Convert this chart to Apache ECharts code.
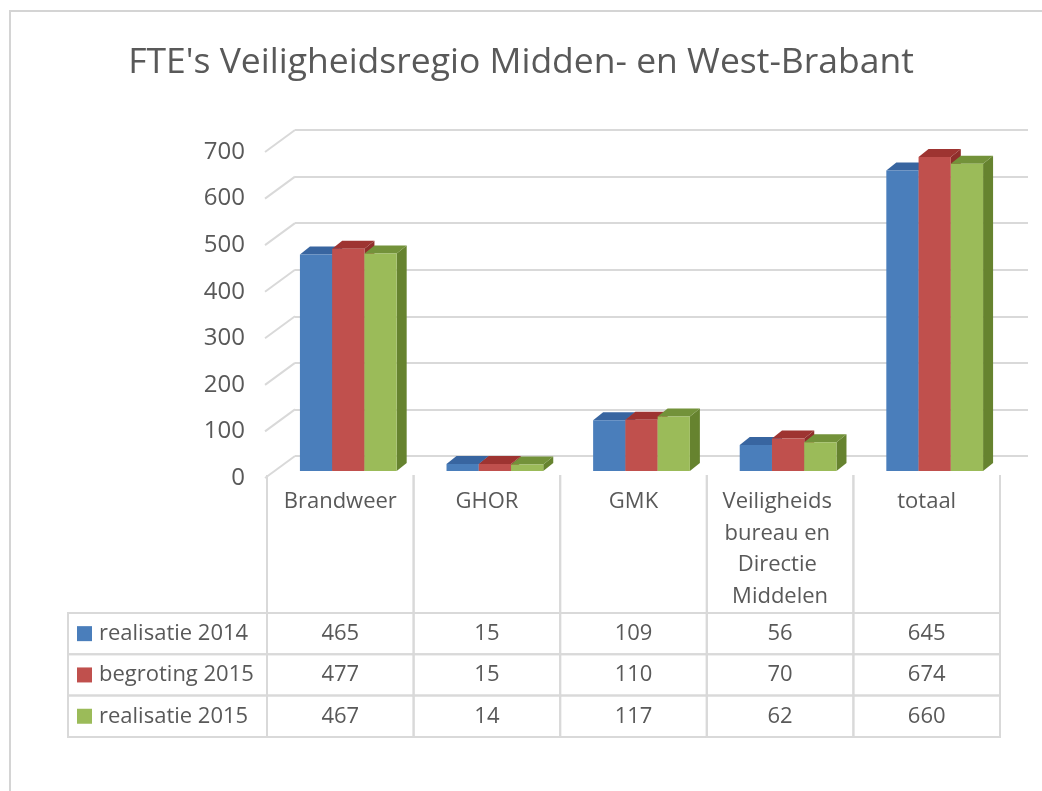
<!DOCTYPE html>
<html>
<head>
<meta charset="utf-8">
<script src="https://cdn.jsdelivr.net/npm/echarts@6/dist/echarts.min.js"></script>
<style>
  html, body { margin: 0; padding: 0; background: #fff; }
  #chart { width: 1042px; height: 791px; }
</style>
</head>
<body>
<div id="chart"></div>
<script>
var categories = ['Brandweer', 'GHOR', 'GMK', 'Veiligheids bureau en Directie Middelen', 'totaal'];
var seriesNames = ['realisatie 2014', 'begroting 2015', 'realisatie 2015'];
var realisatie2014 = [465, 15, 109, 56, 645];
var begroting2015 = [477, 15, 110, 70, 674];
var realisatie2015 = [467, 14, 117, 62, 660];
var yTicks = [0, 100, 200, 300, 400, 500, 600, 700];

var values = [realisatie2014, begroting2015, realisatie2015];
// front / top / side per serie
var colors = [
  ['#4a7ebb', '#3865a0', '#33598e'],
  ['#c0504d', '#9e3431', '#8f2e2b'],
  ['#9bbb59', '#73923a', '#66832f']
];
var FONT = "'Open Sans', sans-serif";
var TXT = '#595959';
var LINE = '#d9d9d9';

var chart = echarts.init(document.getElementById('chart'));

function seg(x1, y1, x2, y2) {
  return { type: 'line', shape: { x1: x1, y1: y1, x2: x2, y2: y2 }, style: { stroke: LINE, lineWidth: 2 } };
}

// 3D kolom: voorvlak, bovenvlak, zijvlak
function barItem(s) {
  return function (params, api) {
    var i = api.value(0);
    var top = api.coord([i, api.value(1)]);
    var zero = api.coord([i, 0]);
    var bw = api.size([1, 0])[0];
    var w = bw * 0.22;
    var x0 = top[0] - 20 - 1.5 * w + s * w;
    var yt = top[1] + 15, yb = zero[1] + 15;
    var dx = 10, dy = -8;
    return {
      type: 'group',
      children: [
        { type: 'polygon', shape: { points: [[x0 + w, yt], [x0 + w + dx, yt + dy], [x0 + w + dx, yb + dy], [x0 + w, yb]] }, style: { fill: colors[s][2] } },
        { type: 'polygon', shape: { points: [[x0, yt], [x0 + w, yt], [x0 + w + dx, yt + dy], [x0 + dx, yt + dy]] }, style: { fill: colors[s][1] } },
        { type: 'rect', shape: { x: x0, y: yt, width: w, height: yb - yt }, style: { fill: colors[s][0] } }
      ]
    };
  };
}

// schuine lijnen op de zijwand
function sideItem(params, api) {
  var c = api.coord([0, api.value(1)]);
  var left = c[0] - api.size([1, 0])[0] / 2;
  return seg(left, c[1], left - 30, c[1] + 22);
}

// gegevenstabel onder de grafiek
function tableItem(params, api) {
  var i = api.value(0);
  var c = api.coord([i, 0]);
  var bw = api.size([1, 0])[0];
  var xl = c[0] - bw / 2, xr = c[0] + bw / 2;
  var y0 = c[1];
  var rowTop = y0 + 135, rowH = 41.3;
  var kids = [];
  kids.push(seg(xl, y0 - 3, xl, rowTop));
  kids.push(seg(xr, y0 - 3, xr, rowTop));
  kids.push({
    type: 'text',
    style: {
      text: categories[i], x: c[0], y: y0 + 8, width: bw - 6, overflow: 'break',
      align: 'center', verticalAlign: 'top', lineHeight: 31.5,
      fontSize: 22, fontFamily: FONT, fill: TXT
    }
  });
  for (var r = 0; r < values.length; r++) {
    var ry = rowTop + r * rowH;
    kids.push({ type: 'rect', shape: { x: xl, y: ry, width: bw, height: rowH }, style: { fill: 'none', stroke: LINE, lineWidth: 2 } });
    kids.push({
      type: 'text',
      style: {
        text: String(values[r][i]), x: c[0], y: ry + rowH / 2, align: 'center', verticalAlign: 'middle',
        fontSize: 22, fontFamily: FONT, fill: TXT
      }
    });
    if (i === 0) {
      var lx = 68;
      kids.push({ type: 'rect', shape: { x: lx, y: ry, width: xl - lx, height: rowH }, style: { fill: 'none', stroke: LINE, lineWidth: 2 } });
      kids.push({ type: 'rect', shape: { x: lx + 9, y: ry + rowH / 2 - 7.5, width: 15, height: 15 }, style: { fill: colors[r][0] } });
      kids.push({
        type: 'text',
        style: {
          text: seriesNames[r], x: lx + 31, y: ry + rowH / 2, align: 'left', verticalAlign: 'middle',
          fontSize: 22, fontFamily: FONT, fill: TXT
        }
      });
    }
  }
  return { type: 'group', children: kids };
}

var series = [
  {
    type: 'custom', xAxisIndex: 0, yAxisIndex: 0, silent: true, clip: false, z: 1,
    renderItem: sideItem,
    data: yTicks.map(function (t) { return [0, t]; })
  },
  {
    type: 'custom', xAxisIndex: 1, yAxisIndex: 1, silent: true, clip: false, z: 1,
    renderItem: tableItem,
    data: categories.map(function (c, i) { return [i, 0]; })
  }
];
values.forEach(function (vals, s) {
  series.push({
    name: seriesNames[s], type: 'custom', xAxisIndex: 0, yAxisIndex: 0, clip: false, z: 5,
    renderItem: barItem(s),
    encode: { x: 0, y: 1 },
    data: vals.map(function (v, i) { return [i, v]; })
  });
});

chart.setOption({
  backgroundColor: '#fff',
  animation: false,
  title: {
    text: "FTE's Veiligheidsregio Midden- en West-Brabant",
    left: 'center', top: 40,
    textStyle: { fontSize: 35.5, fontWeight: 'normal', fontFamily: FONT, color: TXT }
  },
  graphic: [
    { type: 'rect', shape: { x: 10, y: 11, width: 1200, height: 900 }, style: { fill: 'none', stroke: '#d4d4d4', lineWidth: 2 }, silent: true }
  ],
  grid: [
    { left: 295, right: 14, top: 130, bottom: 335 },
    { left: 267, right: 42, top: 152, bottom: 313 }
  ],
  xAxis: [
    { gridIndex: 0, type: 'category', data: categories, axisLine: { show: false }, axisTick: { show: false }, axisLabel: { show: false } },
    { gridIndex: 1, type: 'category', data: categories, axisLine: { show: false }, axisTick: { show: false }, axisLabel: { show: false } }
  ],
  yAxis: [
    {
      gridIndex: 0, type: 'value', min: 0, max: 700, interval: 100,
      axisLine: { show: false }, axisTick: { show: false }, axisLabel: { show: false },
      splitLine: { show: true, lineStyle: { color: LINE, width: 2 } }
    },
    {
      gridIndex: 1, type: 'value', min: 0, max: 700, interval: 100,
      axisLine: { show: false }, axisTick: { show: false }, splitLine: { show: false },
      axisLabel: { fontSize: 24, fontFamily: FONT, color: TXT, margin: 22 }
    }
  ],
  series: series
});
</script>
</body>
</html>
